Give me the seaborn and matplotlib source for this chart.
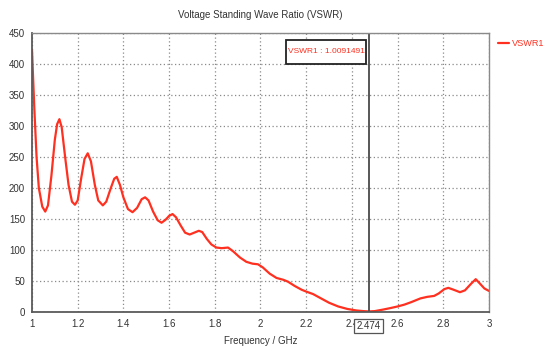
import pandas as pd
import matplotlib.pyplot as plt
import matplotlib.patches as mpatches
import matplotlib.transforms as mtransforms
import seaborn as sns

# values (frequency in GHz, VSWR)
freq_ghz = [1.000, 1.010, 1.020, 1.030, 1.045, 1.058, 1.070, 1.085, 1.100, 1.110,
            1.120, 1.130, 1.145, 1.160, 1.175, 1.188, 1.200, 1.215, 1.230, 1.244,
            1.258, 1.275, 1.290, 1.310, 1.325, 1.345, 1.360, 1.371, 1.385, 1.400,
            1.420, 1.440, 1.460, 1.480, 1.495, 1.510, 1.530, 1.550, 1.567, 1.585,
            1.600, 1.615, 1.630, 1.650, 1.670, 1.690, 1.710, 1.730, 1.745, 1.765,
            1.785, 1.807, 1.830, 1.858, 1.880, 1.910, 1.938, 1.965, 1.989, 2.010,
            2.040, 2.070, 2.100, 2.120, 2.150, 2.180, 2.200, 2.230, 2.260, 2.300,
            2.340, 2.380, 2.420, 2.450, 2.474, 2.500, 2.537, 2.570, 2.600, 2.630,
            2.660, 2.700, 2.730, 2.760, 2.780, 2.805, 2.822, 2.845, 2.873, 2.895,
            2.920, 2.942, 2.960, 2.980, 3.000]
vswr = [423, 330, 250, 200, 170, 162, 172, 220, 278, 303,
        311, 298, 250, 205, 178, 173, 180, 215, 247, 256,
        243, 205, 180, 172, 178, 200, 215, 218, 205, 185,
        166, 161, 168, 182, 185, 180, 162, 148, 144, 149,
        155, 158, 153, 140, 128, 125, 128, 131, 129, 118,
        109, 104, 103, 104, 98, 88, 81, 78, 77, 72,
        62, 55, 52, 49, 42, 36, 33, 29, 23, 15,
        9, 5, 2.5, 1.5, 1, 1.5, 4, 6.5, 9, 12,
        16, 22, 24.5, 26, 30, 37, 39, 36, 32, 35,
        45, 53, 46, 38, 34]

x_ticks = [1, 1.2, 1.4, 1.6, 1.8, 2, 2.2, 2.4, 2.6, 2.8, 3]
x_tick_labels = ["1", "1.2", "1.4", "1.6", "1.8", "2", "2.2", "2.4", "2.6", "2.8", "3"]
y_ticks = [0, 50, 100, 150, 200, 250, 300, 350, 400, 450]

marker_freq = 2.474
marker_label = "VSWR1 : 1.0091491"

df = pd.DataFrame({"Frequency": freq_ghz, "VSWR": vswr, "Curve": "VSWR1"})

sns.set_style("white")
plt.rcParams['font.family'] = ['Liberation Sans', 'DejaVu Sans']
red = "#ff3020"
fs = 7

fig = plt.figure(figsize=(5.45, 3.51), dpi=100)
ax = fig.add_axes([0.0587, 0.111, 0.8385, 0.795])

sns.lineplot(data=df, x="Frequency", y="VSWR", hue="Curve", palette=[red],
             linewidth=1.6, ax=ax, sort=False)

ax.set_xlim(1, 3)
ax.set_ylim(0, 450)
ax.set_xticks(x_ticks)
ax.set_xticklabels(x_tick_labels)
ax.set_yticks(y_ticks)
ax.tick_params(labelsize=fs, length=2, colors="#333333", pad=3)
ax.grid(True, color="#8a8a8a", linestyle=(0, (1, 2)), linewidth=0.9)
for side in ["top", "right"]:
    ax.spines[side].set_color("#8a8a8a")
    ax.spines[side].set_linewidth(1.0)
for side in ["left", "bottom"]:
    ax.spines[side].set_color("#5a5a5a")
    ax.spines[side].set_linewidth(1.3)

ax.set_xlabel("Frequency / GHz", fontsize=fs, color="#333333", labelpad=5)
ax.set_ylabel("")
fig.text(0.478, 0.957, "Voltage Standing Wave Ratio (VSWR)", fontsize=fs,
         color="#333333", ha="center", va="center")

# marker line and its readouts
ax.axvline(marker_freq, color="#4a4a4a", linewidth=1.3)
ax.add_patch(mpatches.Rectangle((0.556, 0.889), 0.175, 0.086, transform=ax.transAxes,
                                facecolor="white", edgecolor="#222222",
                                linewidth=1.3, zorder=4))
ax.text(0.6435, 0.932, marker_label, transform=ax.transAxes, fontsize=6.0,
        color=red, ha="center", va="center", zorder=5)
trans = mtransforms.blended_transform_factory(ax.transData, ax.transAxes)
ax.text(marker_freq, -0.05, "2.474", transform=trans, fontsize=fs,
        color="#333333", ha="center", va="center", clip_on=False, zorder=5,
        bbox=dict(boxstyle="square,pad=0.25", facecolor="white",
                  edgecolor="#555555", linewidth=0.9))

ax.legend(loc="upper left", bbox_to_anchor=(1.007, 1.0), frameon=False,
          fontsize=6.6, labelcolor=red, handlelength=1.2, handletextpad=0.3,
          borderaxespad=0.25)

fig.savefig("out.png", dpi=100)
